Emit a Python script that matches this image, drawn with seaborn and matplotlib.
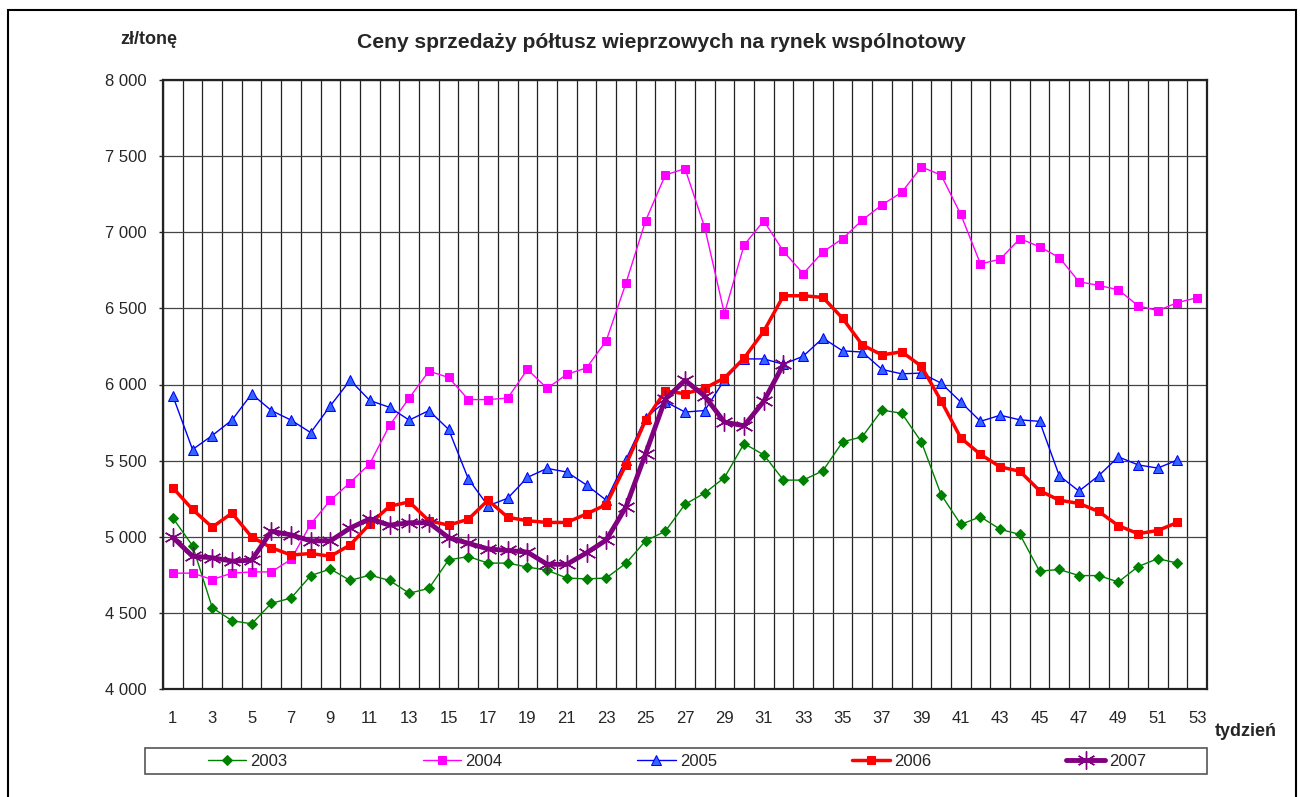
import numpy as np
import pandas as pd
import seaborn as sns
import matplotlib.pyplot as plt
from matplotlib.patches import Rectangle
from matplotlib.ticker import FuncFormatter, FixedLocator

# weekly pork half-carcass prices, zl per tonne
weeks = list(range(1, 54))

p2003 = [5123, 4941, 4534, 4449, 4428, 4563, 4597, 4745, 4788, 4713, 4748, 4713, 4629,
         4661, 4848, 4870, 4827, 4827, 4801, 4780, 4729, 4723, 4729, 4825, 4973, 5036,
         5213, 5287, 5388, 5612, 5538, 5372, 5372, 5433, 5623, 5657, 5832, 5811, 5623,
         5277, 5081, 5131, 5049, 5015, 4774, 4785, 4745, 4745, 4703, 4804, 4856, 4827]
p2004 = [4761, 4761, 4719, 4761, 4769, 4769, 4851, 5084, 5240, 5356, 5480, 5731, 5911,
         6088, 6046, 5901, 5901, 5911, 6099, 5975, 6067, 6109, 6287, 6665, 7075, 7376,
         7418, 7032, 6466, 6916, 7075, 6874, 6728, 6871, 6958, 7080, 7180, 7262, 7429,
         7376, 7117, 6792, 6823, 6958, 6905, 6834, 6675, 6651, 6622, 6517, 6485, 6538, 6570]
p2005 = [5925, 5573, 5665, 5766, 5938, 5829, 5766, 5684, 5861, 6028, 5895, 5850, 5766,
         5829, 5705, 5380, 5203, 5253, 5390, 5449, 5425, 5340, 5240, 5507, 5782, 5887,
         5819, 5829, 6030, 6168, 6168, 6133, 6186, 6305, 6221, 6213, 6099, 6070, 6075,
         6009, 5885, 5758, 5798, 5768, 5758, 5401, 5300, 5401, 5525, 5472, 5451, 5504]
p2006 = [5322, 5179, 5063, 5155, 4999, 4928, 4880, 4890, 4872, 4946, 5084, 5200, 5229,
         5105, 5076, 5115, 5240, 5128, 5105, 5094, 5094, 5150, 5211, 5472, 5766, 5956,
         5940, 5975, 6043, 6173, 6350, 6583, 6583, 6572, 6435, 6260, 6194, 6215, 6120,
         5893, 5649, 5541, 5459, 5430, 5303, 5240, 5219, 5166, 5073, 5020, 5041, 5094]
p2007 = [4996, 4872, 4862, 4840, 4846, 5036, 5012, 4973, 4973, 5057, 5118, 5076, 5092,
         5092, 4994, 4957, 4920, 4910, 4899, 4819, 4819, 4894, 4978, 5195, 5546, 5903,
         6028, 5924, 5753, 5729, 5890, 6133]

years = ["2003", "2004", "2005", "2006", "2007"]
values = [p2003, p2004, p2005, p2006, p2007]

# Excel-like series styles
styles = {
    "2003": dict(color="#008000", lw=1.0, marker="D", ms=5.5, mfc="#008000", mec="#008000"),
    "2004": dict(color="#FF00FF", lw=1.0, marker="s", ms=6, mfc="#FF00FF", mec="#FF00FF"),
    "2005": dict(color="#0000FF", lw=1.0, marker="^", ms=7, mfc="#3366FF", mec="#0000FF"),
    "2006": dict(color="#FF0000", lw=2.5, marker="s", ms=6, mfc="#FF0000", mec="#FF0000"),
    "2007": dict(color="#800080", lw=3.5, marker=(6, 2, 0), ms=13, mfc="#800080",
                 mec="#800080", mew=1.0),
}

sns.set_style("white")
plt.rcParams["font.family"] = ["Liberation Sans", "DejaVu Sans"]

W, H = 1300, 797
fig = plt.figure(figsize=(W / 100, H / 100), dpi=100)
ax = fig.add_axes([163 / W, 1 - 689 / H, (1207 - 163) / W, (689 - 80) / H])

for year, vals in zip(years, values):
    sns.lineplot(x=weeks[:len(vals)], y=vals, ax=ax, label=year, **styles[year])

ax.set_xlim(0.5, 53.5)
ax.set_ylim(4000, 8000)
ax.set_xlabel("")
ax.set_ylabel("")

# x axis: labels on odd weeks, ticks and grid on category boundaries
ax.xaxis.set_major_locator(FixedLocator(weeks[::2]))
ax.xaxis.set_minor_locator(FixedLocator(np.arange(0.5, 54, 1.0)))
ax.tick_params(axis="x", which="major", length=0, pad=16, labelsize=12)
ax.tick_params(axis="x", which="minor", length=4.5, width=1.0, direction="out", color="#222222")
ax.grid(axis="x", which="minor", color="#222222", lw=0.9)

ax.set_yticks(np.arange(4000, 8001, 500))
ax.yaxis.set_major_formatter(FuncFormatter(lambda v, p: f"{int(v):,}".replace(",", " ")))
ax.tick_params(axis="y", length=3, width=1.0, direction="out", pad=9, labelsize=12, left=True)
ax.grid(axis="y", which="major", color="#444444", lw=0.9)
ax.set_axisbelow(True)

for sp in ax.spines.values():
    sp.set_visible(True)
    sp.set_color("#222222")
    sp.set_linewidth(1.6)

handles, labels = ax.get_legend_handles_labels()
ax.get_legend().remove()

# legend box drawn separately so the entries can sit centred inside it
fig.patches.append(Rectangle((145 / W, 1 - 774 / H), (1207 - 145) / W, 26 / H,
                             transform=fig.transFigure, fill=False,
                             edgecolor="#555555", lw=1.2))
fig.legend(handles, labels, loc="center", bbox_to_anchor=(677 / W, 1 - 761 / H),
           ncol=5, frameon=False, fontsize=12, handlelength=2.3, handletextpad=0.25,
           columnspacing=8.1, numpoints=1)

# outer chart frame
fig.patches.append(Rectangle((8 / W, -0.01), (1296 - 8) / W, 1.01 - 10 / H,
                             transform=fig.transFigure, fill=False,
                             edgecolor="black", lw=1.5))

fig.text(661 / W, 1 - 43 / H, "Ceny sprzedaży półtusz wieprzowych na rynek wspólnotowy",
         ha="center", va="center", fontsize=15.2, fontweight="bold")
fig.text(149 / W, 1 - 40 / H, "zł/tonę", ha="center", va="center", fontsize=13,
         fontweight="bold")
fig.text(1246 / W, 1 - 732 / H, "tydzień", ha="center", va="center", fontsize=13,
         fontweight="bold")

fig.savefig("out.png", dpi=100)
